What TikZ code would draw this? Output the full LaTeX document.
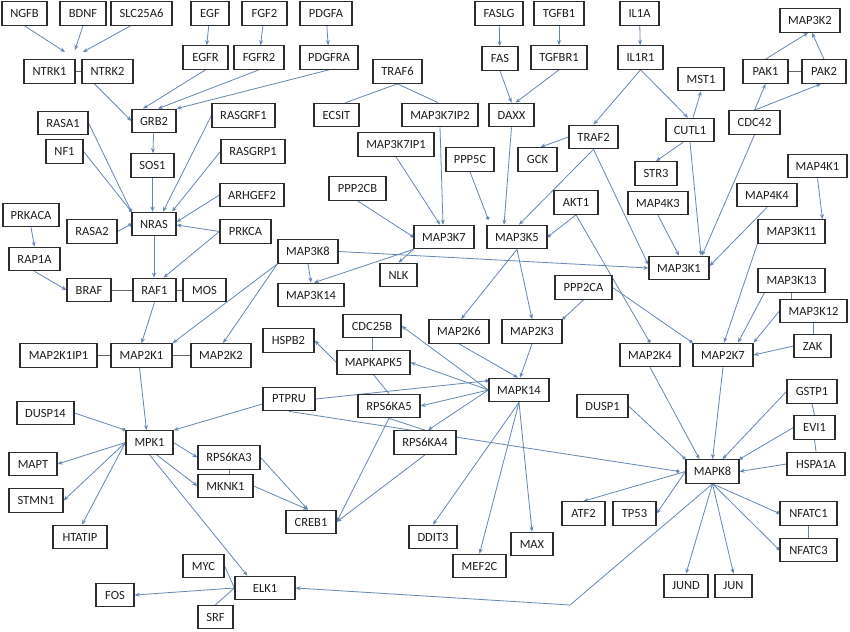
\documentclass[tikz,border=0pt]{standalone}
\usepackage{fontspec}
\setmainfont{Carlito}
\usetikzlibrary{arrows.meta}
\definecolor{edgec}{RGB}{100,135,180}
\definecolor{boxc}{RGB}{45,45,45}
\definecolor{txtc}{RGB}{30,30,30}
\pgfdeclarelayer{background}
\pgfdeclarelayer{bottom}
\pgfsetlayers{bottom,background,main}
\tikzset{
  box/.style={draw=boxc, line width=1.2pt, fill=white, text=txtc, minimum height=23.5pt, inner sep=0pt, font=\fontsize{12.5}{14}\selectfont},
  ar/.style={draw=edgec, line width=0.8pt, -{Stealth[length=5pt,width=4pt]}},
  dt/.style={draw=edgec, line width=0.8pt, -{Circle[length=3.6pt]}},
  ln/.style={draw=edgec, line width=0.8pt},
  lg/.style={draw=gray!80!black, line width=0.8pt}
}
\newcommand\bx[4]{\node[box,minimum width=#3pt] (#1) at (#2) {#4};}
\begin{document}
\begin{tikzpicture}[x=1pt,y=-1pt]
\begin{pgfonlayer}{bottom}
\fill[white] (0,0) rectangle (850,631);
\end{pgfonlayer}
\useasboundingbox (0,0) rectangle (850,631);
% nodes
\bx{NGFB}{24.5,13.5}{45}{NGFB}
\bx{BDNF}{83,13.5}{46}{BDNF}
\bx{SLC25A6}{141.5,13.5}{61}{SLC25A6}
\bx{EGF}{210,13.5}{38}{EGF}
\bx{FGF2}{264.5,13.5}{45}{FGF2}
\bx{PDGFA}{326,13.5}{52}{PDGFA}
\bx{FASLG}{499,13.5}{48}{FASLG}
\bx{TGFB1}{559,13.5}{50}{TGFB1}
\bx{IL1A}{639.5,13.5}{39}{IL1A}
\bx{MAP3K2}{810,20.5}{60}{MAP3K2}
\bx{NTRK1}{49.5,71.5}{51}{NTRK1}
\bx{NTRK2}{107.5,71.5}{51}{NTRK2}
\bx{EGFR}{205.5,57.5}{45}{EGFR}
\bx{FGFR2}{259,57.5}{50}{FGFR2}
\bx{PDGFRA}{329,57.5}{58}{PDGFRA}
\bx{FAS}{500,58.5}{36}{FAS}
\bx{TGFBR1}{559,57.5}{56}{TGFBR1}
\bx{IL1R1}{640.5,57.5}{45}{IL1R1}
\bx{PAK1}{765.5,71.5}{45}{PAK1}
\bx{PAK2}{824,71.5}{44}{PAK2}
\bx{MST1}{701,79}{46}{MST1}
\bx{TRAF6}{397.5,71.5}{49}{TRAF6}
\bx{ECSIT}{336.5,115}{45}{ECSIT}
\bx{MAP3K7IP2}{440,115}{76}{MAP3K7IP2}
\bx{DAXX}{511.5,115}{45}{DAXX}
\bx{CDC42}{754.5,122.5}{51}{CDC42}
\bx{CUTL1}{690,130}{48}{CUTL1}
\bx{TRAF2}{593.5,137}{49}{TRAF2}
\bx{GRB2}{154,121}{44}{GRB2}
\bx{RASA1}{63,123}{50}{RASA1}
\bx{RASGRF1}{243.5,115.5}{63}{RASGRF1}
\bx{MAP3K7IP1}{396,144.5}{76}{MAP3K7IP1}
\bx{PPP5C}{470,159.5}{48}{PPP5C}
\bx{GCK}{537.5,159.5}{39}{GCK}
\bx{NF1}{64.5,151.5}{37}{NF1}
\bx{SOS1}{152.5,165.5}{43}{SOS1}
\bx{RASGRP1}{253,151.5}{64}{RASGRP1}
\bx{STR3}{656,173.5}{42}{STR3}
\bx{MAP4K1}{817.5,166}{59}{MAP4K1}
\bx{PPP2CB}{357.5,188.5}{57}{PPP2CB}
\bx{ARHGEF2}{252,195}{64}{ARHGEF2}
\bx{MAP4K4}{767,195}{60}{MAP4K4}
\bx{AKT1}{576,202.5}{44}{AKT1}
\bx{MAP4K3}{658,203}{60}{MAP4K3}
\bx{PRKACA}{31,215}{56}{PRKACA}
\bx{NRAS}{154,224}{44}{NRAS}
\bx{RASA2}{92,231.5}{50}{RASA2}
\bx{PRKCA}{245.5,231.5}{51}{PRKCA}
\bx{MAP3K7}{444,237}{60}{MAP3K7}
\bx{MAP3K5}{517,237}{60}{MAP3K5}
\bx{MAP3K11}{791.5,231.5}{67}{MAP3K11}
\bx{MAP3K8}{308,251.5}{60}{MAP3K8}
\bx{RAP1A}{34.5,259}{51}{RAP1A}
\bx{MAP3K1}{679,268}{60}{MAP3K1}
\bx{NLK}{398.5,275}{37}{NLK}
\bx{MAP3K13}{791.5,280.5}{67}{MAP3K13}
\bx{PPP2CA}{583.5,287.5}{57}{PPP2CA}
\bx{BRAF}{89,290}{44}{BRAF}
\bx{RAF1}{154.5,290}{43}{RAF1}
\bx{MOS}{204.5,290}{43}{MOS}
\bx{MAP3K14}{311,295}{66}{MAP3K14}
\bx{MAP3K12}{813.5,311}{67}{MAP3K12}
\bx{CDC25B}{372,326}{58}{CDC25B}
\bx{MAP2K6}{459,331.5}{60}{MAP2K6}
\bx{MAP2K3}{532,331.5}{60}{MAP2K3}
\bx{HSPB2}{288.5,340.5}{51}{HSPB2}
\bx{ZAK}{812.5,346}{37}{ZAK}
\bx{MAP2K1IP1}{58.5,355.5}{77}{MAP2K1IP1}
\bx{MAP2K1}{141.5,355.5}{61}{MAP2K1}
\bx{MAP2K2}{221,355.5}{60}{MAP2K2}
\bx{MAP2K4}{650,355}{60}{MAP2K4}
\bx{MAP2K7}{723,355}{60}{MAP2K7}
\bx{MAPKAPK5}{373.5,362.5}{73}{MAPKAPK5}
\bx{MAPK14}{519,390}{60}{MAPK14}
\bx{GSTP1}{812,391.5}{50}{GSTP1}
\bx{PTPRU}{289,399}{52}{PTPRU}
\bx{RPS6KA5}{389,406}{62}{RPS6KA5}
\bx{DUSP1}{602.5,406}{51}{DUSP1}
\bx{DUSP14}{45.5,413}{57}{DUSP14}
\bx{EVI1}{814.5,427.5}{41}{EVI1}
\bx{RPS6KA4}{425,442.5}{62}{RPS6KA4}
\bx{MPK1}{149.5,442.5}{47}{MPK1}
\bx{RPS6KA3}{229,457.5}{62}{RPS6KA3}
\bx{MAPK8}{712.5,471.5}{53}{MAPK8}
\bx{HSPA1A}{816,464}{58}{HSPA1A}
\bx{MAPT}{33,464}{48}{MAPT}
\bx{MKNK1}{225.5,486}{55}{MKNK1}
\bx{STMN1}{36,500.5}{54}{STMN1}
\bx{ATF2}{583.5,513.5}{43}{ATF2}
\bx{TP53}{634.5,513.5}{43}{TP53}
\bx{NFATC1}{808.5,513.5}{57}{NFATC1}
\bx{CREB1}{311,522}{50}{CREB1}
\bx{HTATIP}{80,537}{54}{HTATIP}
\bx{DDIT3}{433,537}{48}{DDIT3}
\bx{MAX}{532,544}{42}{MAX}
\bx{NFATC3}{808.5,550}{57}{NFATC3}
\bx{MEF2C}{479.5,566}{53}{MEF2C}
\bx{MYC}{203.5,566}{41}{MYC}
\bx{JUND}{686,586}{44}{JUND}
\bx{JUN}{733.5,586}{37}{JUN}
\bx{ELK1}{265,588}{60}{ELK1}
\bx{FOS}{115,595}{38}{FOS}
\bx{SRF}{215.5,617}{35}{SRF}
\coordinate (t1) at (65,52);
\coordinate (t2) at (75,50);
\coordinate (t3) at (83,52);
\coordinate (bend) at (570,605);
\begin{pgfonlayer}{background}
% receptors
\draw[ar] (NGFB.south) -- (t1);
\draw[ar] (BDNF.south) -- (t2);
\draw[ar] ([xshift=-11pt]SLC25A6.south) -- (t3);
\draw[lg] (NTRK1) -- (NTRK2);
\draw[ar] ([xshift=13pt]NTRK2.south west) -- (GRB2.west);
\draw[ar] (EGF) -- (EGFR);
\draw[ar] (FGF2) -- (FGFR2);
\draw[ar] (PDGFA) -- (PDGFRA);
\draw[ar] (EGFR.south) -- ([xshift=-11pt]GRB2.north);
\draw[ar] (FGFR2.south) -- ([xshift=4pt]GRB2.north);
\draw[ar] (PDGFRA.south) -- (GRB2.north east);
\draw[ar] (GRB2) -- (SOS1);
\draw[ar] (SOS1.south) -- (SOS1.south |- NRAS.north);
\draw[dt] (RASA1.east) -- (NRAS.north west);
\draw[dt] (NF1.east) -- (NRAS.north west);
\draw[dt] (RASA2.east) -- (NRAS.west);
\draw[ar] (RASGRF1.west) -- ([xshift=9pt]NRAS.north);
\draw[ar] (RASGRP1.west) -- ([xshift=18pt]NRAS.north);
\draw[ar] (ARHGEF2.west) -- ([yshift=2pt]NRAS.east);
\draw[ar] (PRKCA.west) -- ([yshift=-1pt]NRAS.east);
\draw[ar] (PRKCA.west) -- ([xshift=9pt]RAF1.north);
\draw[ar] (NRAS.south) -- (NRAS.south |- RAF1.north);
\draw[ar] (PRKACA.south) -- (RAP1A.north);
\draw[ar] (RAP1A.south) -- (BRAF.west);
\draw[lg] (BRAF) -- (RAF1);
\draw[lg] (RAF1) -- (MOS);
\draw[ar] (RAF1.south) -- (MAP2K1.north);
\draw[ar] (MAP3K8.south west) -- (MAP2K1.north east);
\draw[ar] (MAP3K8.south west) -- ([xshift=2pt]MAP2K2.north);
\draw[lg] (MAP2K1IP1) -- (MAP2K1);
\draw[lg] (MAP2K1) -- (MAP2K2);
% MPK1
\draw[ar] ([xshift=-2pt]MAP2K1.south) -- ([xshift=-3pt]MPK1.north);
\draw[dt] (DUSP14.east) -- (MPK1.north west);
\draw[ar] ([yshift=-5pt]PTPRU.west) -- (MPK1.north east);
\draw[ar] (MPK1.west) -- (MAPT.east);
\draw[ar] (MPK1.west) -- (STMN1.east);
\draw[ar] (MPK1.west) -- ([xshift=2pt]HTATIP.north);
\draw[ar] (MPK1.east) -- (RPS6KA3.west);
\draw[ar] ([xshift=7pt]MPK1.south) -- (MKNK1.west);
\draw[ar] (MPK1.south) -- ([xshift=13pt]ELK1.north west);
\draw[ln] (RPS6KA3.south) -- (RPS6KA3.south |- MKNK1.north);
\draw[ar] (RPS6KA3.east) -- ([xshift=-3pt]CREB1.north);
\draw[ar] (MKNK1.east) -- ([xshift=-3pt]CREB1.north);
\draw[ar] (RPS6KA5.south) -- (CREB1.east);
\draw[ar] (RPS6KA4.south) -- (CREB1.east);
\draw[ln] (RPS6KA5.south) -- (RPS6KA4.north);
\draw[ln] (MYC.east) -- (ELK1.west);
\draw[ln] (SRF.north) -- (ELK1.west);
\draw[ar] (ELK1.west) -- (FOS.east);
\draw[ar] (MAPK8.south) -- (bend) -- (ELK1.east);
% MAP3Ks
\draw[ar] (MAP3K8.south) -- (MAP3K14.north);
\draw[ar] (MAP3K7.south west) -- ([xshift=3pt]MAP3K14.north);
\draw[ar] (MAP3K7.south west) -- (NLK.north);
\draw[ar] (MAP3K8.east) -- (MAP3K1.west);
\draw[ln] (TRAF6.south) -- ([xshift=9pt]ECSIT.north);
\draw[ln] (TRAF6.south) -- ([xshift=-2pt]MAP3K7IP2.north);
\draw[ar] (MAP3K7IP2.south) -- ([xshift=-1pt]MAP3K7.north);
\draw[ar] (MAP3K7IP1.south) -- ([xshift=-4pt]MAP3K7.north);
\draw[dt] (PPP2CB.south) -- (MAP3K7.west);
\draw[dt] (PPP5C.south) -- ([xshift=2pt,yshift=5pt]MAP3K5.north west);
\draw[ar] (DAXX.south) -- ([xshift=-13pt]MAP3K5.north);
\draw[ar] (TRAF2.south) -- ([xshift=2pt]MAP3K5.north);
\draw[dt] (AKT1.south) -- (MAP3K5.east);
\draw[ar] (TRAF2.west) -- ([xshift=3pt]GCK.north);
\draw[ar] (TRAF2.south) -- ([yshift=3pt]MAP3K1.west);
\draw[ar] (FASLG) -- (FAS);
\draw[ar] (TGFB1) -- (TGFBR1);
\draw[ar] (FAS.south) -- (DAXX.north);
\draw[ar] (TGFBR1.south) -- ([xshift=4pt]DAXX.north);
\draw[ar] (IL1A) -- (IL1R1);
\draw[ar] (IL1R1.south) -- (TRAF2.north);
\draw[ar] (IL1R1.south) -- ([xshift=-2pt]CUTL1.north);
\draw[ar] ([xshift=3pt]CUTL1.north) -- (MST1.south);
\draw[ar] ([xshift=-7pt]CUTL1.south) -- (STR3.north);
\draw[ar] (CUTL1.south) -- ([xshift=22pt]MAP3K1.north);
\draw[ar] (CDC42.south) -- ([xshift=23pt]MAP3K1.north);
\draw[ar] (CDC42.north) -- (PAK1.south);
\draw[ar] (CDC42.north) -- ([xshift=-3pt]PAK2.south);
\draw[lg] (PAK1) -- (PAK2);
\draw[ar] (PAK1.north) -- ([xshift=-2pt]MAP3K2.south);
\draw[ar] (PAK2.north) -- ([xshift=2pt]MAP3K2.south);
\draw[ar] (MAP4K3.south) -- (MAP3K1.north);
\draw[ar] (MAP4K4.south) -- ([yshift=2pt]MAP3K1.east);
\draw[ar] (MAP4K1.south) -- ([xshift=31pt]MAP3K11.north);
% MAP2Ks
\draw[ar] (MAP3K11.south west) -- ([xshift=1pt]MAP2K7.north);
\draw[ar] ([xshift=7pt]MAP3K13.south west) -- ([xshift=15pt]MAP2K7.north);
\draw[ln] (MAP3K13.south) -- (MAP3K13.south |- MAP3K12.north);
\draw[ar] (MAP3K12.west) -- (MAP2K7.north east);
\draw[ln] (MAP3K12.south) -- (MAP3K12.south |- ZAK.north);
\draw[ar] (ZAK.west) -- (MAP2K7.east);
\draw[dt] (AKT1.south) -- (MAP2K4.north);
\draw[dt] (PPP2CA.east) -- (MAP2K7.north west);
\draw[dt] (PPP2CA.south) -- (MAP2K3.north east);
\draw[ar] (MAP3K5.south) -- ([xshift=2pt]MAP2K6.north);
\draw[ar] (MAP3K5.south) -- (MAP2K3.north);
\draw[ar] (MAP2K6.south) -- ([xshift=-1pt]MAPK14.north);
\draw[ar] (MAP2K3.south) -- ([xshift=1pt]MAPK14.north);
% MAPK14
\draw[ar] (MAPK14.west) -- (CDC25B.east);
\draw[ar] (MAPK14.west) -- (MAPKAPK5.east);
\draw[ar] (MAPKAPK5.west) -- (HSPB2.east);
\draw[ln] (CDC25B.south) -- (CDC25B.south |- MAPKAPK5.north);
\draw[ln] (MAPKAPK5.south) -- (RPS6KA5.north);
\draw[ar] (MAPK14.west) -- (RPS6KA5.east);
\draw[ar] (MAPK14.west) -- ([xshift=3pt]RPS6KA4.north);
\draw[dt] (PTPRU.east) -- ([yshift=-3pt]MAPK14.north west);
\draw[dt] (PTPRU.south) -- ([xshift=-6pt]MAPK8.west);
\draw[ar] (MAPK14.south) -- (DDIT3.north);
\draw[ar] (MAPK14.south) -- (MEF2C.north);
\draw[ar] (MAPK14.south) -- (MAX.north);
% MAPK8
\draw[ar] (MAP2K4.south) -- ([xshift=-13pt]MAPK8.north);
\draw[ar] (MAP2K7.south) -- (MAPK8.north);
\draw[ar] (GSTP1.west) -- ([xshift=10pt]MAPK8.north);
\draw[dt] (EVI1.west) -- (MAPK8.north east);
\draw[ar] (HSPA1A.west) -- (MAPK8.east);
\draw[dt] (DUSP1.east) -- (MAPK8.north west);
\draw[ln] (GSTP1.south) -- (EVI1.north);
\draw[ln] (EVI1.south) -- (HSPA1A.north);
\draw[ar] (MAPK8.west) -- (ATF2.north);
\draw[ar] (MAPK8.west) -- (TP53.east);
\draw[ar] (MAPK8.south) -- (JUND.north);
\draw[ar] (MAPK8.south) -- (JUN.north);
\draw[dt] (MAPK8.south) -- (NFATC1.west);
\draw[dt] (MAPK8.south) -- (NFATC3.west);
\draw[ln] (NFATC1.south) -- (NFATC3.north);
\end{pgfonlayer}
\end{tikzpicture}
\end{document}
